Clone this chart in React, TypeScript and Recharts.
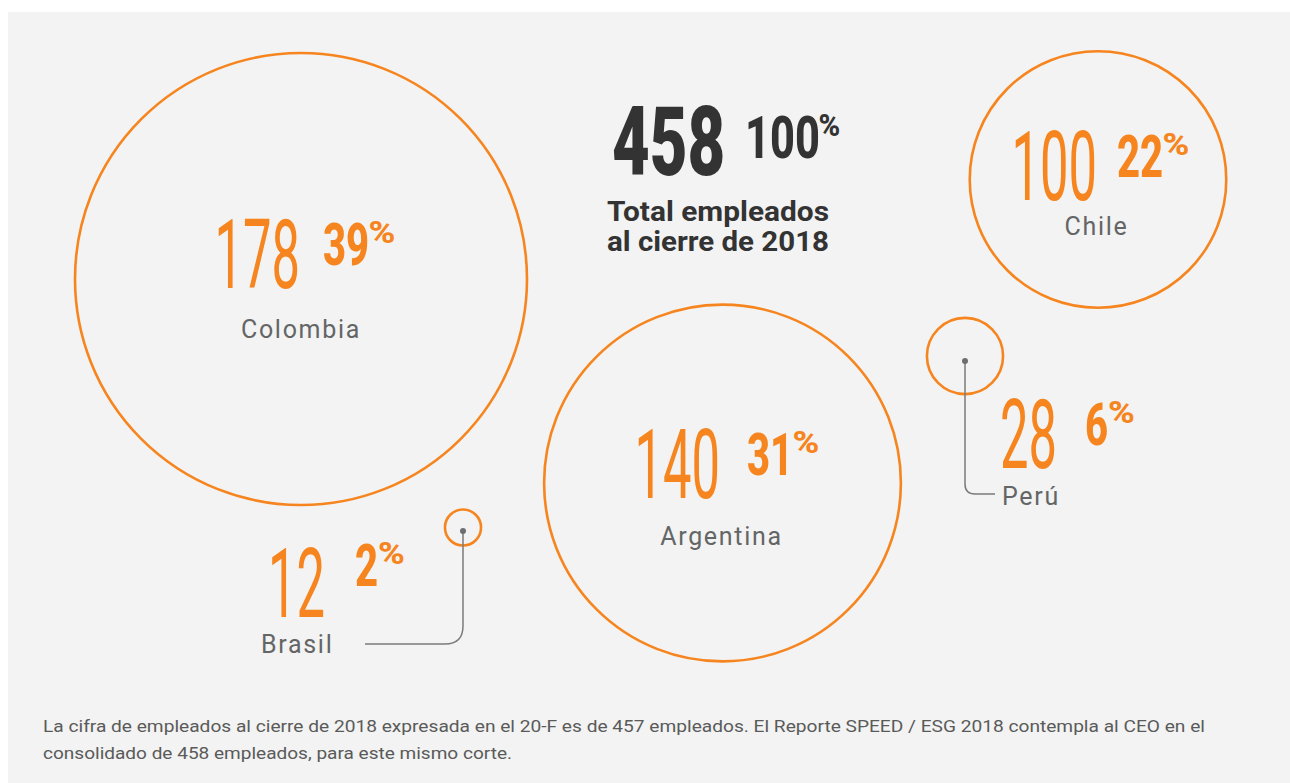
import React from 'react'
import { ScatterChart, Scatter, XAxis, YAxis, ZAxis } from 'recharts'

// data
const countries = ['Colombia', 'Argentina', 'Chile', 'Perú', 'Brasil']
const employees = [178, 140, 100, 28, 12]
const shares = [39, 31, 22, 6, 2]
const totalEmployees = 458
const totalShare = 100
const totalLabel = ['Total empleados', 'al cierre de 2018']
const footnote = [
  'La cifra de empleados al cierre de 2018 expresada en el 20-F es de 457 empleados. El Reporte SPEED / ESG 2018 contempla al CEO en el',
  'consolidado de 458 empleados, para este mismo corte.',
]

// layout of the infographic, in page pixels (axes map 1:1)
const centers = [
  [301, 279],
  [722.5, 483],
  [1098, 179.5],
  [965, 356],
  [463, 527.5],
]
// offsets from the bubble centre: number end, percent start, label anchor
const placement = [
  { nx: -1, ny: 9, px: 22, py: -14, lx: 0, ly: 59, anchor: 'middle' },
  { nx: -2.5, ny: 15, px: 24.5, py: -8, lx: -1, ly: 62, anchor: 'middle' },
  { nx: -1, ny: 20.5, px: 19, py: -2.5, lx: -1.5, ly: 55.5, anchor: 'middle' },
  { nx: 92, ny: 112, px: 120, py: 89, lx: 37, ly: 149, anchor: 'start', leader: { dy: 5, y: 138, x: 30, r: 10 } },
  { nx: -138, ny: 89.5, px: -108, py: 58.5, lx: -202, ly: 125.5, anchor: 'start', leader: { dy: 3.5, y: 116.5, x: -98, r: 18 } },
]

const ORANGE = '#f6851f'
const GREY = '#646566'
const DARK = '#333333'
const BG = '#f2f3f2'
const FONT = 'Roboto, "Noto Sans", sans-serif'
const DIGIT = 0.5615 // Roboto tabular digit advance, em

const rows = countries.map((name, i) => ({
  name,
  x: centers[i][0],
  y: centers[i][1],
  z: employees[i],
  share: shares[i],
  idx: i,
}))

// condensed figures: squeeze Roboto horizontally to a DIN-like width
function Condensed({ x, y, text, size, digitW, weight, color }: any) {
  const s = String(text)
  const sx = digitW / (DIGIT * size)
  return (
    <text transform={`translate(${x},${y}) scale(${sx.toFixed(4)},1)`} fontFamily={FONT} fontWeight={weight} fontSize={size} fill={color}>
      {s}
    </text>
  )
}

// bold figure with a raised, smaller percent sign
function Percent({ x, y, value, digitW, size, color, pctW }: any) {
  const s = String(value)
  const w = s.length * digitW
  const ps = size * 0.52
  return (
    <g>
      <Condensed x={x} y={y} text={s} size={size} digitW={digitW} weight={800} color={color} />
      <text
        transform={`translate(${x + w + 0.5},${y - size * 0.37}) scale(${(pctW / (0.716 * ps)).toFixed(4)},1)`}
        fontFamily={FONT}
        fontWeight={800}
        fontSize={ps}
        fill={color}
      >
        %
      </text>
    </g>
  )
}

function Bubble(props: any) {
  const { cx, cy, size, payload } = props
  const r = typeof size === 'number' ? size : props.width / 2
  const p = placement[payload.idx]
  const num = String(payload.z)
  const numLen = num.length * 28.5
  let leader = null
  if (p.leader) {
    const L = p.leader
    const x0 = cx
    const y0 = cy + L.dy
    const yc = cy + L.y
    const dir = L.x > 0 ? 1 : -1
    leader = (
      <g>
        <path
          d={`M${x0},${y0} L${x0},${yc - L.r} Q${x0},${yc} ${x0 + dir * L.r},${yc} L${cx + L.x},${yc}`}
          fill="none"
          stroke="#7b7b7b"
          strokeWidth={1.5}
        />
        <circle cx={x0} cy={y0} r={3} fill="#6d6e70" />
      </g>
    )
  }
  return (
    <g>
      <circle cx={cx} cy={cy} r={r} fill="none" stroke={ORANGE} strokeWidth={2.6} />
      {leader}
      <Condensed x={cx + p.nx - numLen} y={cy + p.ny} text={num} size={97} digitW={28.5} weight={400} color={ORANGE} />
      <Percent x={cx + p.px} y={cy + p.py} value={payload.share} digitW={22.5} size={60} color={ORANGE} pctW={26} />
      <text
        x={cx + p.lx}
        y={cy + p.ly}
        textAnchor={p.anchor}
        fontFamily={FONT}
        fontWeight={400}
        fontSize={25}
        letterSpacing={1.7}
        fill={GREY}
      >
        {payload.name}
      </text>
    </g>
  )
}

export default function App() {
  const W = 1282
  const H = 771
  return (
    <div style={{ position: 'absolute', left: 8, top: 12, width: W, height: H, background: BG }}>
      <ScatterChart width={W} height={H} margin={{ top: 0, right: 0, bottom: 0, left: 0 }}>
        <XAxis type="number" dataKey="x" domain={[8, 1290]} hide />
        <YAxis type="number" dataKey="y" domain={[12, 783]} reversed hide />
        <ZAxis type="number" dataKey="z" domain={[0, 178]} range={[3, 226]} />
        <Scatter data={rows} shape={Bubble} isAnimationActive={false} />
      </ScatterChart>
      <svg width={W} height={H} style={{ position: 'absolute', left: 0, top: 0, pointerEvents: 'none' }}>
        <g transform="translate(-8,-12)">
          <Condensed x={612} y={175} text={totalEmployees} size={96} digitW={36.6} weight={900} color={DARK} />
          <Percent x={745} y={158} value={totalShare} digitW={24.3} size={60} color={DARK} pctW={21} />
          {totalLabel.map((t, i) => (
            <text key={t} x={607} y={221 + i * 29.5} fontFamily={FONT} fontWeight={700} fontSize={27} fill={DARK} textLength={222} lengthAdjust="spacingAndGlyphs">
              {t}
            </text>
          ))}
          {footnote.map((t, i) => (
            <text key={i} x={43} y={732 + i * 27} fontFamily={FONT} fontWeight={400} fontSize={17} fill="#5a5a5a" textLength={i === 0 ? 1162 : 469} lengthAdjust="spacingAndGlyphs">
              {t}
            </text>
          ))}
        </g>
      </svg>
    </div>
  )
}
